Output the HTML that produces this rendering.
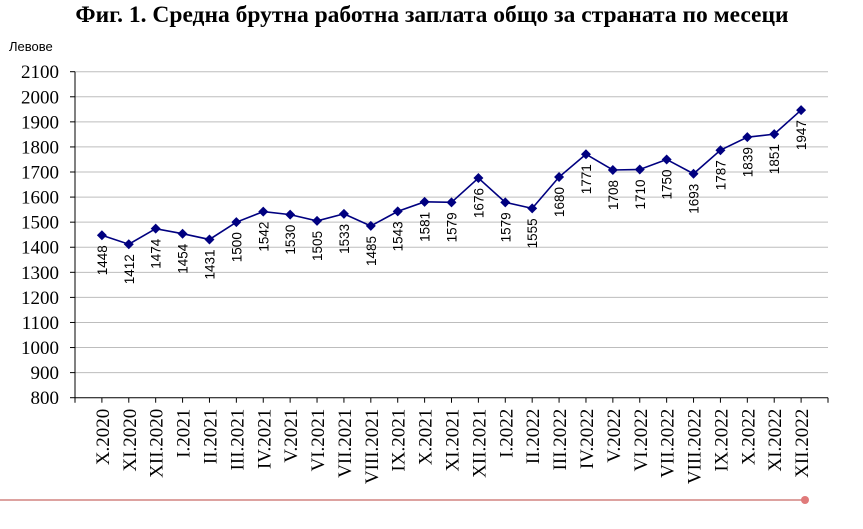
<!DOCTYPE html>
<html><head><meta charset="utf-8"><style>
html,body{margin:0;padding:0;background:#fff;width:863px;height:529px;overflow:hidden}
svg{display:block}
</style></head><body>
<svg id="chart" width="863" height="529">
<text x="432" y="22" text-anchor="middle" font-family="Liberation Serif, serif" font-weight="bold" font-size="23.5">Фиг. 1. Средна брутна работна заплата общо за страната по месеци</text>
<text x="9" y="51" font-family="Liberation Sans, sans-serif" font-size="13">Левове</text>
<g id="grid"></g><g id="axes"></g><g id="series"></g>
<line x1="0" y1="500" x2="805" y2="500" stroke="#c0504d" stroke-width="1.5" opacity="0.7"/>
<circle cx="805" cy="500" r="4" fill="#e07a7a"/>
</svg>
<script>
const categories=["X.2020","XI.2020","XII.2020","I.2021","II.2021","III.2021","IV.2021","V.2021","VI.2021","VII.2021","VIII.2021","IX.2021","X.2021","XI.2021","XII.2021","I.2022","II.2022","III.2022","IV.2022","V.2022","VI.2022","VII.2022","VIII.2022","IX.2022","X.2022","XI.2022","XII.2022"];
const values=[1448,1412,1474,1454,1431,1500,1542,1530,1505,1533,1485,1543,1581,1579,1676,1579,1555,1680,1771,1708,1710,1750,1693,1787,1839,1851,1947];
const yTicks=[800,900,1000,1100,1200,1300,1400,1500,1600,1700,1800,1900,2000,2100];
const NS="http://www.w3.org/2000/svg";
const L=75,R=828,T=71.7,B=397.7,yMin=800,yMax=2100;
const step=(R-L)/(categories.length+1);
function xs(i){return L+step*(i+1);}
function ys(v){return B-(v-yMin)/(yMax-yMin)*(B-T);}
function mk(tag,attrs,parent){const e=document.createElementNS(NS,tag);for(const k in attrs)e.setAttribute(k,attrs[k]);parent.appendChild(e);return e;}
const grid=document.getElementById('grid'),axes=document.getElementById('axes'),ser=document.getElementById('series');
yTicks.forEach(t=>{
  const y=ys(t);
  if(t>yMin){const g=mk('line',{x1:L,x2:R,y1:y,y2:y,stroke:'#bdbdbd','stroke-width':1},grid);
  
  }
  const tk=mk('line',{x1:L-5,x2:L,y1:y,y2:y,stroke:'#000'},axes);
  
  
  const tx=mk('text',{x:L-16,y:y+6.5,'text-anchor':'end','font-family':'Liberation Serif, serif','font-size':19},axes);
  tx.textContent=t;
  
  
});
const ya=mk('line',{x1:L,x2:L,y1:T,y2:B+5,stroke:'#000'},axes);


const xa=mk('line',{x1:L,x2:R,y1:B,y2:B,stroke:'#000'},axes);


const endTick=mk('line',{x1:R,x2:R,y1:B,y2:B+5,stroke:'#000'},axes);


categories.forEach((c,i)=>{
  const x=xs(i);
  const tk=mk('line',{x1:x,x2:x,y1:B,y2:B+5,stroke:'#000'},axes);
  
  
  const tx=mk('text',{x:0,y:0,'text-anchor':'end','font-family':'Liberation Serif, serif','font-size':19,transform:`translate(${x+7},${B+11}) rotate(-90)`},axes);
  tx.textContent=c;
  
  
});
const pts=values.map((v,i)=>xs(i)+','+ys(v)).join(' ');
const pl=mk('polyline',{points:pts,fill:'none',stroke:'#000080','stroke-width':1.6},ser);


values.forEach((v,i)=>{
  const x=xs(i),y=ys(v);
  const m=mk('polygon',{points:`${x},${y-5} ${x+5},${y} ${x},${y+5} ${x-5},${y}`,fill:'#000080'},ser);
  
  
  const t=mk('text',{x:0,y:0,'text-anchor':'end','font-family':'Liberation Sans, sans-serif','font-size':13.5,transform:`translate(${x+5},${y+10}) rotate(-90)`},ser);
  t.textContent=v;
  
  
});
</script>
</body></html>
